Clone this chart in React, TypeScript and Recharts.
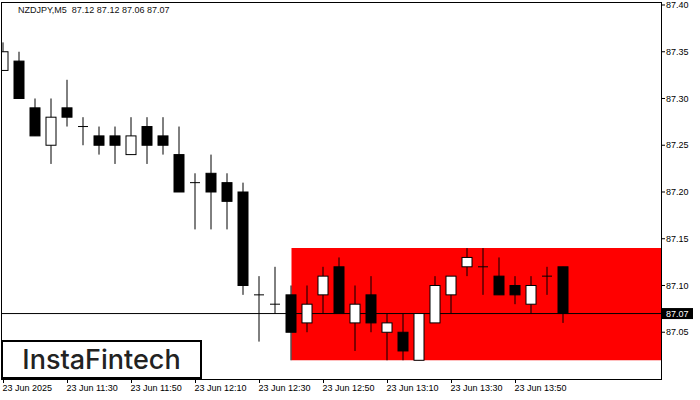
import { ComposedChart, Bar, XAxis, YAxis, ReferenceArea, ReferenceLine } from 'recharts'

// NZDJPY M5, one value per candle
const opens = [87.33, 87.34, 87.29, 87.25, 87.29, 87.27, 87.26, 87.26, 87.24, 87.27, 87.26, 87.24, 87.21, 87.22, 87.21, 87.20, 87.09, 87.08,
  87.09, 87.06, 87.09, 87.12, 87.06, 87.09, 87.05, 87.05, 87.02, 87.06, 87.09, 87.12, 87.12, 87.11, 87.10, 87.08, 87.11, 87.12]
const highs = [87.36, 87.35, 87.30, 87.30, 87.32, 87.28, 87.27, 87.27, 87.28, 87.28, 87.28, 87.27, 87.22, 87.24, 87.22, 87.21, 87.11, 87.12,
  87.10, 87.10, 87.12, 87.13, 87.10, 87.11, 87.07, 87.07, 87.07, 87.11, 87.11, 87.14, 87.14, 87.13, 87.11, 87.11, 87.12, 87.12]
const lows = [87.33, 87.30, 87.26, 87.23, 87.27, 87.25, 87.24, 87.23, 87.24, 87.23, 87.24, 87.20, 87.16, 87.16, 87.16, 87.09, 87.04, 87.07,
  87.02, 87.05, 87.07, 87.07, 87.03, 87.05, 87.02, 87.02, 87.02, 87.06, 87.07, 87.11, 87.09, 87.09, 87.08, 87.07, 87.09, 87.06]
const closes = [87.35, 87.30, 87.26, 87.28, 87.28, 87.27, 87.25, 87.25, 87.26, 87.25, 87.25, 87.20, 87.21, 87.20, 87.19, 87.10, 87.09, 87.08,
  87.05, 87.08, 87.11, 87.07, 87.08, 87.06, 87.06, 87.03, 87.07, 87.10, 87.11, 87.13, 87.12, 87.09, 87.09, 87.10, 87.11, 87.07]

const xTicks = [0, 4, 8, 12, 16, 20, 24, 28, 32]
const xTickLabels = ['23 Jun 2025', '23 Jun 11:30', '23 Jun 11:50', '23 Jun 12:10', '23 Jun 12:30',
  '23 Jun 12:50', '23 Jun 13:10', '23 Jun 13:30', '23 Jun 13:50']
const yTicks = [87.05, 87.07, 87.1, 87.15, 87.2, 87.25, 87.3, 87.35, 87.4]

const lastPrice = 87.07
const zoneStart = 18
const zoneLow = 87.02
const zoneHigh = 87.14

const X_MIN = -0.15625
const X_MAX = 41.09375

const data = opens.map((o, i) => ({ i, o, h: highs[i], l: lows[i], c: closes[i], range: [lows[i], highs[i]] }))

const font = '"Liberation Sans", Arial, sans-serif'

function Candle(props: any) {
  const { x, y, width, height, payload } = props
  if (x == null || !payload) return null
  const { o, h, l, c } = payload
  const top = Math.min(y, y + height)
  const bot = Math.max(y, y + height)
  const py = (v: number) => (h === l ? top : top + ((h - v) / (h - l)) * (bot - top))
  const cx = x + width / 2
  const yo = py(o)
  const yc = py(c)
  return (
    <g>
      <line x1={cx} x2={cx} y1={top} y2={bot} stroke="#000" strokeWidth={1} />
      {o === c ? (
        <line x1={cx - 5} x2={cx + 5} y1={yo} y2={yo} stroke="#000" strokeWidth={1} />
      ) : (
        <rect x={cx - 5} y={Math.min(yo, yc)} width={10} height={Math.abs(yc - yo)}
          fill={c > o ? '#fff' : '#000'} stroke="#000" strokeWidth={1} />
      )}
    </g>
  )
}

function PriceTick(props: any) {
  const { x, y, payload } = props
  const v = payload.value
  const ax = x - 5
  if (Math.abs(v - lastPrice) < 1e-6) {
    return (
      <g>
        <rect x={ax + 1} y={y - 5.5} width={31} height={11} fill="#000" />
        <text x={x} y={y} dy="0.355em" fill="#fff" fontSize={9} fontFamily={font}>{v.toFixed(2)}</text>
      </g>
    )
  }
  return (
    <g>
      <line x1={ax} x2={ax + 4} y1={y} y2={y} stroke="#000" />
      <text x={x} y={y} dy="0.355em" fill="#000" fontSize={9} fontFamily={font}>{v.toFixed(2)}</text>
    </g>
  )
}

function TimeTick(props: any) {
  const { x, y, payload } = props
  const k = xTicks.indexOf(payload.value)
  return (
    <text x={x - 1} y={y} dy="0.71em" fill="#000" fontSize={9} fontFamily={font} textAnchor="start">
      {xTickLabels[k]}
    </text>
  )
}

export default function App() {
  return (
    <div style={{ position: 'absolute', left: 0, top: 0, width: 700, height: 400, background: '#fff' }}>
      <ComposedChart width={700} height={400} data={data} margin={{ top: 2, right: 0, bottom: 0, left: 1 }}>
        <XAxis dataKey="i" type="number" domain={[X_MIN, X_MAX]} ticks={xTicks} allowDataOverflow
          height={21} axisLine={false} tickSize={4} tickMargin={2} tickLine={{ stroke: '#000' }} tick={<TimeTick />} interval={0} />
        <YAxis orientation="right" type="number" domain={[87.0, 87.4032]} ticks={yTicks} allowDataOverflow
          width={39} axisLine={false} tickLine={false} tickSize={4} tickMargin={1} tick={<PriceTick />} interval={0} />
        <ReferenceArea x1={zoneStart} x2={X_MAX} y1={zoneLow} y2={zoneHigh} fill="#ff0000" fillOpacity={1} stroke="none" />
        <ReferenceLine y={lastPrice} stroke="#000" strokeWidth={1} {...({ zIndex: 150 } as any)} />
        <Bar dataKey="range" barSize={11} shape={<Candle />} isAnimationActive={false} />
      </ComposedChart>
      <div style={{ position: 'absolute', left: 1, top: 2, width: 661, height: 378, border: '1px solid #000', boxSizing: 'border-box', pointerEvents: 'none' }} />
      <div style={{ position: 'absolute', left: 18, top: 5, fontSize: 9, lineHeight: '11px', fontFamily: font, color: '#111', whiteSpace: 'pre' }}>
        NZDJPY,M5  87.12 87.12 87.06 87.07
      </div>
      <div style={{ position: 'absolute', left: 1, top: 340, width: 201, height: 39, border: '2px solid #000', boxSizing: 'border-box', background: '#fff',
        display: 'flex', alignItems: 'center', justifyContent: 'center', fontFamily: 'Inter, sans-serif', fontSize: 27, fontWeight: 500, color: '#222' }}>
        InstaFintech
      </div>
    </div>
  )
}
